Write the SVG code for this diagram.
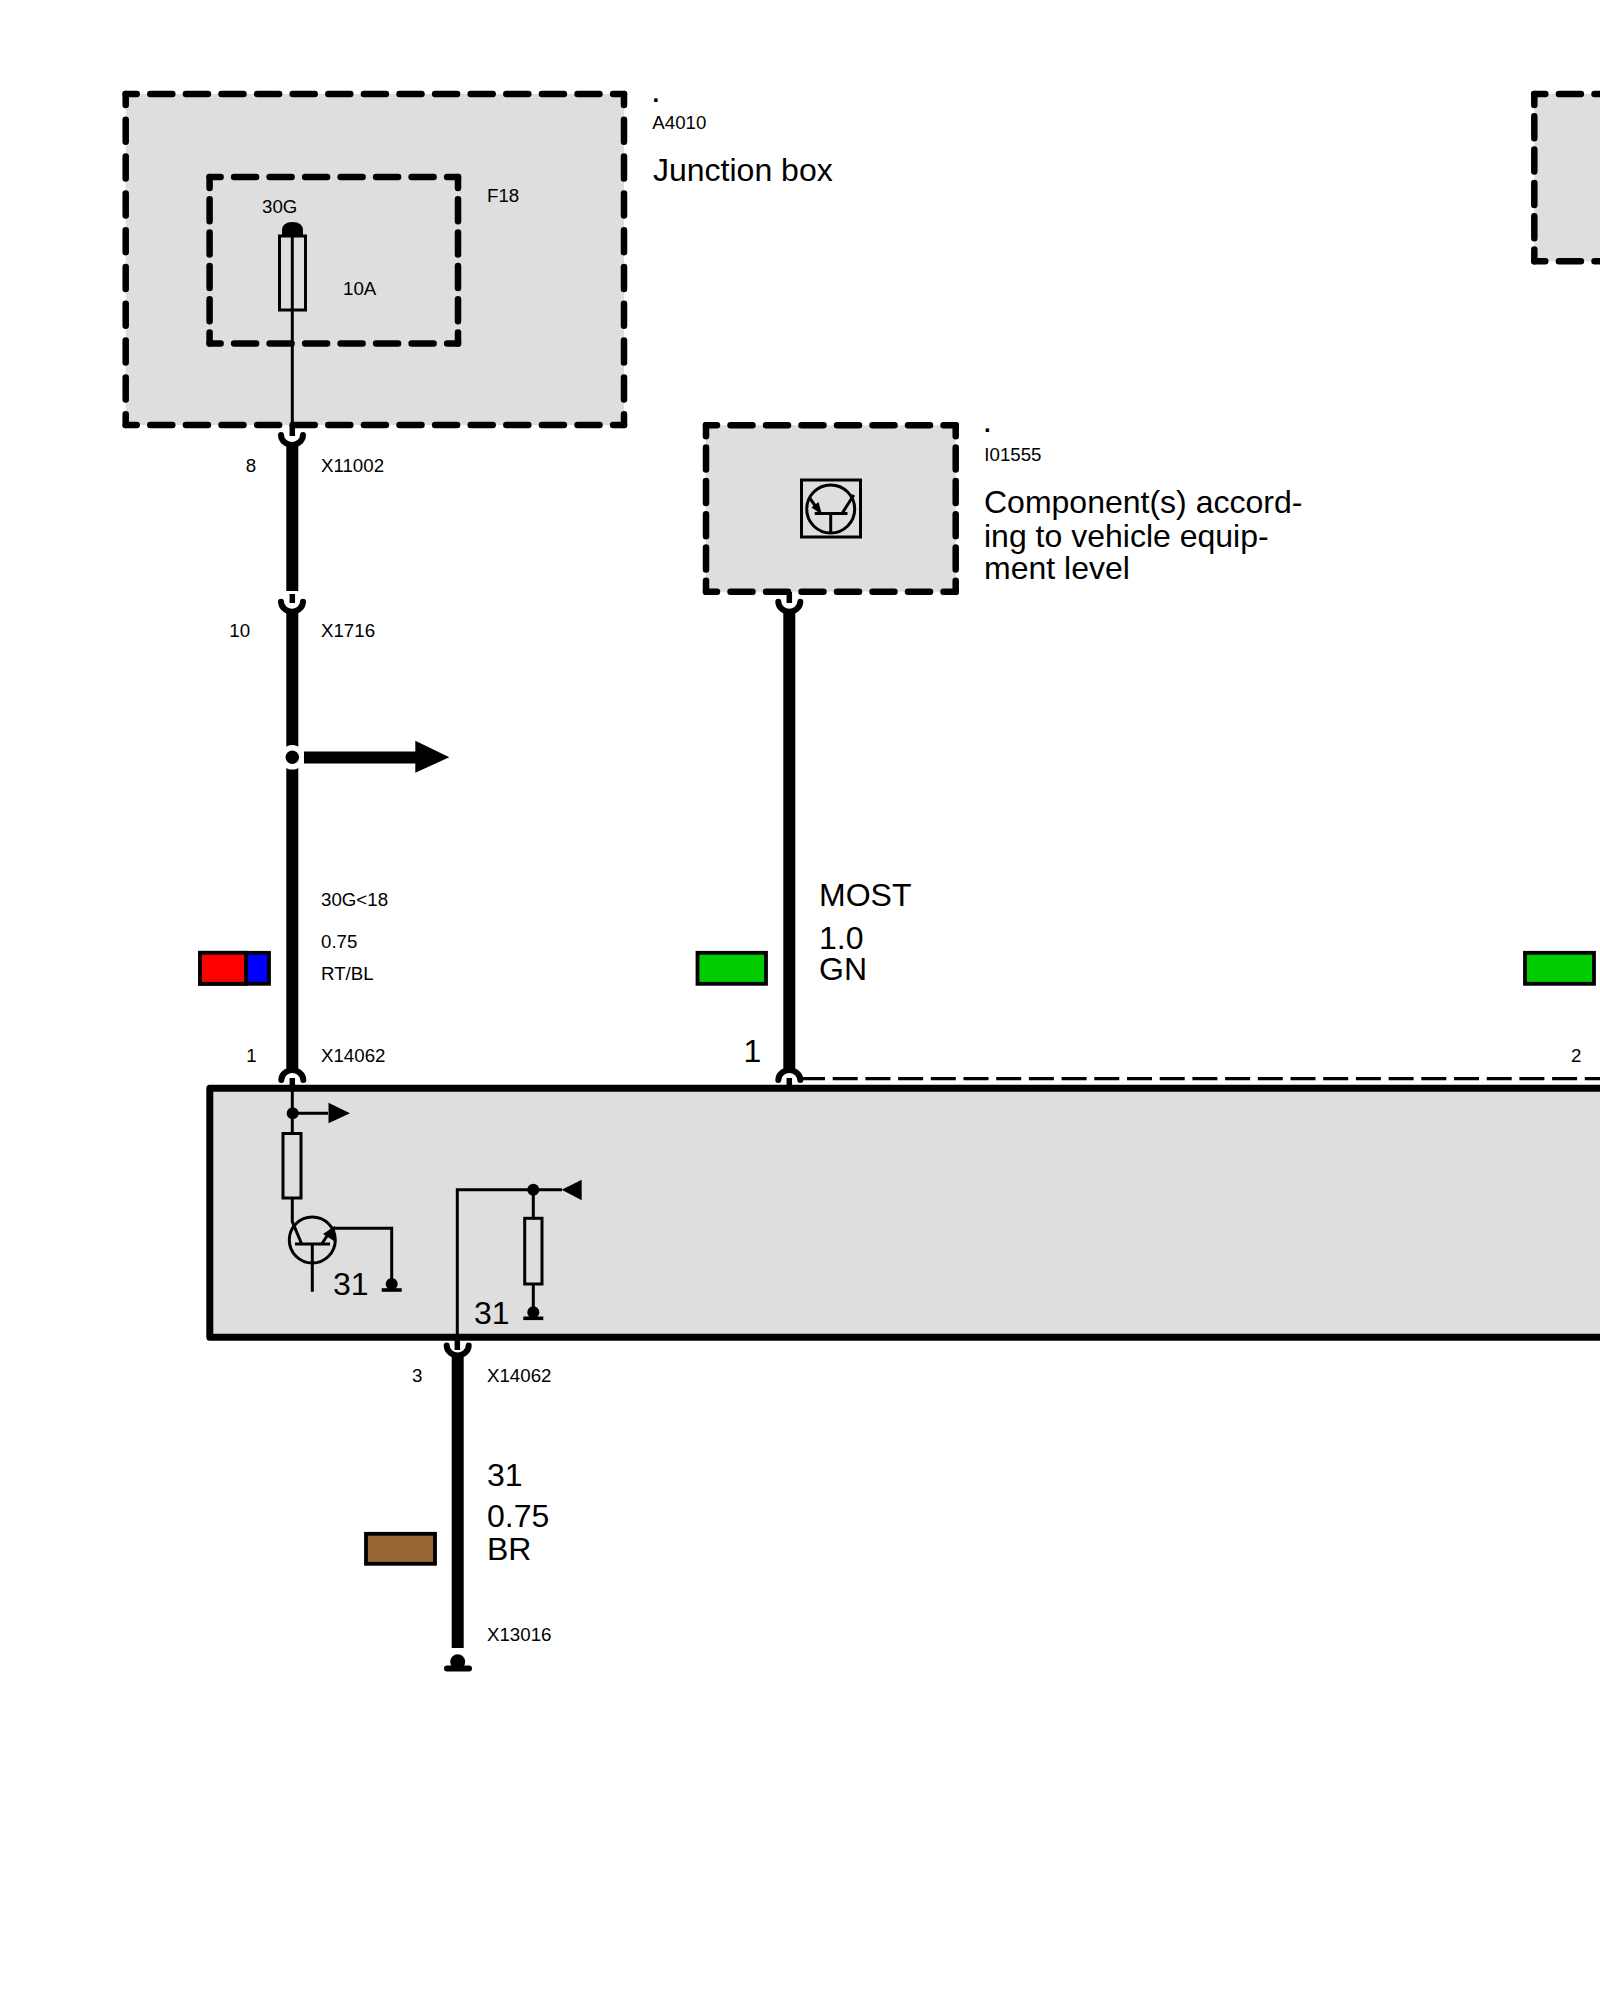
<svg xmlns="http://www.w3.org/2000/svg" width="1600" height="2000" viewBox="0 0 1600 2000">
<style>
text{font-family:"Liberation Sans",Arial,sans-serif;fill:#000}
.s{font-size:18.7px}
.l{font-size:32px}
.dot{font-size:24px;font-weight:bold}
.fill{fill:#dedede;stroke:none}
.d{stroke:#000;stroke-width:6.5;stroke-linecap:round;fill:none;stroke-dashoffset:11}
.h14{stroke-dasharray:22 13.6}
.v9{stroke-dasharray:22 14.8}
.v5{stroke-dasharray:22 11.3}
.h7{stroke-dasharray:22 13.5}
.wire{stroke:#000;stroke-width:12;fill:none}
.stub{stroke:#000;stroke-width:5.5;fill:none}
.thin{stroke:#000;stroke-width:3;fill:none}
.sw{stroke:#000;stroke-width:3.8}
.part{fill:none;stroke:#000;stroke-width:3}
.cup{fill:none;stroke:#000;stroke-width:6;stroke-linecap:round}
</style>
<defs>
<path id="cup" class="cup" d="M-11 0C-11 6-5 10 0 10C5 10 11 6 11 0"/>
<g id="gnd"><circle cx="0" cy="-6" r="6" fill="#000"/><path d="M-10 0H10" stroke="#000" stroke-width="3.6"/></g>
</defs>

<g id="box-a4010">
<rect class="fill" x="125.7" y="94" width="498.3" height="331"/>
<path class="d h14" d="M125.7 94H624"/><path class="d h14" d="M125.7 425H624"/>
<path class="d v9" d="M125.7 94V425"/><path class="d v9" d="M624 94V425"/>
<text class="dot" x="652.5" y="102">.</text>
<text class="s" x="652.3" y="129.3">A4010</text>
<text class="l" x="653" y="181">Junction box</text>
</g>
<g id="fuse-f18">
<path class="d h7" d="M209.6 177H458"/><path class="d h7" d="M209.6 343.6H458"/>
<path class="d v5" d="M209.6 177V343.6"/><path class="d v5" d="M458 177V343.6"/>
<path d="M282 236V230.5Q282 222 292.5 222Q303 222 303 230.5V236Z" fill="#000"/>
<rect class="part" x="279.5" y="236" width="26" height="74"/>
<text class="s" x="262" y="212.7">30G</text>
<text class="s" x="487" y="202">F18</text>
<text class="s" x="343" y="295">10A</text>
</g>
<g id="box-right">
<rect class="fill" x="1534.3" y="94" width="70" height="167.3"/>
<path class="d h14" d="M1534.3 94H1610"/><path class="d h14" d="M1534.3 261.3H1610"/>
<path class="d v5" d="M1534.3 94V261.3"/>
</g>
<g id="box-i01555">
<rect class="fill" x="706" y="425.3" width="249.7" height="166.4"/>
<path class="d h7" d="M706 425.3H955.7"/><path class="d h7" d="M706 591.7H955.7"/>
<path class="d v5" d="M706 425.3V591.7"/><path class="d v5" d="M955.7 425.3V591.7"/>
<rect class="part" x="801.5" y="480" width="59" height="57"/>
<circle class="part" cx="830.7" cy="509" r="24"/>
<path class="part" d="M814.7 513.5H847.5M830.7 513.5V533M842 513.5L853.8 495M809.6 498L819 511"/>
<path d="M822 514.5L811.5 507.5L818.5 502Z" fill="#000"/>
<text class="dot" x="984" y="431.7">.</text>
<text class="s" x="984.3" y="460.7">I01555</text>
<text class="l" x="984" y="513">Component(s) accord-</text>
<text class="l" x="984" y="546.5">ing to vehicle equip-</text>
<text class="l" x="984" y="579">ment level</text>
</g>
<g id="module-x14062">
<rect x="209.8" y="1088.3" width="1440" height="249" fill="#dedede" stroke="#000" stroke-width="7" stroke-linejoin="round"/>
<rect class="part" x="283" y="1133.5" width="18" height="64.5"/>
<circle class="part" cx="312.3" cy="1240" r="23"/>
<path class="part" d="M292.3 1114V1133.5M292.3 1198V1221.7L301.7 1244M295 1244H330M312.3 1244V1291.7M321.7 1244L331 1230M333 1228.3H391.7V1280"/>
<path d="M335 1226L334 1241L323 1234Z" fill="#000"/>
<path class="part" d="M292.3 1113.3H328"/>
<circle cx="292.7" cy="1113.3" r="6" fill="#000"/>
<path d="M328.5 1102.8L350 1113.3L328.5 1123.2Z" fill="#000"/>
<use href="#gnd" x="391.7" y="1290"/>
<text class="l" x="333" y="1295">31</text>
<path class="part" d="M457.3 1345V1189.7H562M533.3 1189.7V1218.3M533.3 1284V1310"/>
<circle cx="533.3" cy="1189.7" r="6" fill="#000"/>
<path d="M561.7 1189.7L581.7 1179.7V1200.2Z" fill="#000"/>
<rect class="part" x="524.7" y="1218.3" width="17.3" height="65.7"/>
<use href="#gnd" x="533.3" y="1318.3"/>
<text class="l" x="474" y="1324">31</text>
</g>

<g id="connectors">
<path class="thin" d="M292.3 230V426"/>
<path class="stub" d="M292.3 425V436"/>
<use href="#cup" x="292" y="435"/>
<path class="wire" d="M292.3 445V591"/>
<path class="stub" d="M292.3 594V603"/>
<use href="#cup" x="292" y="601.7"/>
<path class="wire" d="M292.3 611V1068"/>
<circle cx="292.3" cy="757.3" r="12.3" fill="#fff"/>
<circle cx="292.3" cy="757.3" r="6.7" fill="#000"/>
<path d="M304 757.5H417" stroke="#000" stroke-width="12" fill="none"/>
<path d="M415.3 740.7L449.3 757.3L415.3 772.7Z" fill="#000"/>
<use href="#cup" transform="translate(292.3 1080) scale(1 -1)"/>
<path class="stub" d="M292.3 1078V1089"/>
<path class="thin" d="M292.3 1089V1114"/>
<path class="stub" d="M789.3 592V603"/>
<use href="#cup" x="789.3" y="601.7"/>
<path class="wire" d="M789.3 611V1068"/>
<use href="#cup" transform="translate(789.3 1080) scale(1 -1)"/>
<path class="stub" d="M789.3 1078V1088"/>
<path d="M800 1078.7H1600" stroke="#000" stroke-width="3.2" stroke-dasharray="25 7.7" fill="none"/>
<path class="stub" d="M457.3 1337V1350"/>
<use href="#cup" x="457.7" y="1345.5"/>
<path class="wire" d="M457.7 1354V1648"/>
<circle cx="457.7" cy="1661.7" r="7.5" fill="#000"/>
<path d="M447 1668.5H469" stroke="#000" stroke-width="6" stroke-linecap="round"/>
</g>

<g id="wire-x11002-labels">
<text class="s" x="245.7" y="471.7">8</text>
<text class="s" x="321" y="471.7">X11002</text>
<text class="s" x="229.3" y="636.8">10</text>
<text class="s" x="321" y="636.8">X1716</text>
</g>
<g id="wire-30g-labels">
<text class="s" x="321" y="905.7">30G&lt;18</text>
<text class="s" x="321" y="947.7">0.75</text>
<text class="s" x="321" y="980">RT/BL</text>
<text class="s" x="246.3" y="1061.7">1</text>
<text class="s" x="321" y="1061.7">X14062</text>
<rect class="sw" x="200" y="952.8" width="69" height="31" fill="#0000ff"/>
<rect class="sw" x="200" y="952.8" width="46" height="31" fill="#ff0000"/>
</g>
<g id="wire-most-labels">
<text class="l" x="819" y="906">MOST</text>
<text class="l" x="819" y="948.5">1.0</text>
<text class="l" x="819" y="980">GN</text>
<text class="l" x="743.5" y="1061.7">1</text>
<rect class="sw" x="697.5" y="952.8" width="68.5" height="31" fill="#00cc00"/>
<rect class="sw" x="1525" y="952.8" width="69" height="31" fill="#00cc00"/>
<text class="s" x="1571" y="1061.7">2</text>
</g>
<g id="wire-31-labels">
<text class="s" x="412" y="1381.7">3</text>
<text class="s" x="487" y="1381.7">X14062</text>
<text class="l" x="487" y="1486">31</text>
<text class="l" x="487" y="1527">0.75</text>
<text class="l" x="487" y="1560">BR</text>
<rect class="sw" x="366" y="1533.8" width="69" height="30" fill="#996633"/>
<text class="s" x="487" y="1640.7">X13016</text>
</g>
</svg>
